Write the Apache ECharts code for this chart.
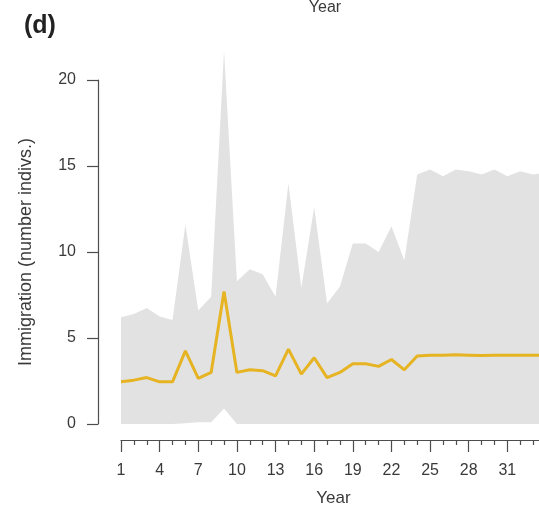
<!DOCTYPE html>
<html>
<head>
<meta charset="utf-8">
<script src="https://cdn.jsdelivr.net/npm/echarts@6/dist/echarts.min.js"></script>
<style>
  html, body { margin: 0; padding: 0; background: #ffffff; }
  #chart { width: 539px; height: 511px; }
</style>
</head>
<body>
<div id="chart"></div>
<script>
// Years of the simulation
const years = [1,2,3,4,5,6,7,8,9,10,11,12,13,14,15,16,17,18,19,20,21,22,23,24,25,26,27,28,29,30,31,32,33,34];

// Median number of immigrating individuals per year
const medianImmigration = [2.45, 2.55, 2.7, 2.45, 2.45, 4.25, 2.65, 3.0, 7.7, 3.0, 3.15, 3.1, 2.8, 4.35, 2.9, 3.85, 2.7, 3.0, 3.5, 3.5, 3.35, 3.75, 3.15, 3.95, 4.0, 4.0, 4.02, 4.0, 3.98, 4.0, 4.0, 4.0, 4.0, 4.0];

// Upper and lower limits of the uncertainty band
const upperLimit = [6.2, 6.4, 6.75, 6.25, 6.05, 11.6, 6.6, 7.4, 21.7, 8.3, 9.0, 8.7, 7.4, 14.0, 7.9, 12.6, 7.0, 8.0, 10.5, 10.5, 10.0, 11.5, 9.5, 14.5, 14.8, 14.4, 14.8, 14.7, 14.5, 14.8, 14.4, 14.7, 14.5, 14.6];
const lowerLimit = [0, 0, 0, 0, 0, 0.05, 0.1, 0.1, 0.9, 0, 0, 0, 0, 0, 0, 0, 0, 0, 0, 0, 0, 0, 0, 0, 0, 0, 0, 0, 0, 0, 0, 0, 0, 0];

// Y-axis tick values
const yTicks = [0, 5, 10, 15, 20];

const axisGrey = '#4d4d4d';
const textGrey = '#3a3a3a';
const fontFamily = '"Liberation Sans", Arial, Helvetica, sans-serif';

const upperData = years.map((y, i) => [y, upperLimit[i]]);
const lowerData = years.map((y, i) => [y, lowerLimit[i]]);
const medianData = years.map((y, i) => [y, medianImmigration[i]]);

const chart = echarts.init(document.getElementById('chart'), null, { renderer: 'canvas' });

chart.setOption({
  animation: false,
  backgroundColor: '#ffffff',
  grid: { left: 121, right: -7, top: 80, bottom: 87, containLabel: false, outerBoundsMode: 'none' },
  graphic: [
    {
      type: 'text', left: 24, top: 14,
      style: { text: '(d)', font: 'bold 25px ' + fontFamily, fill: '#222222' }
    },
    {
      type: 'text', x: 325, y: 8,
      style: { text: 'Year', font: '16px ' + fontFamily, fill: textGrey, align: 'center', verticalAlign: 'middle' }
    }
  ],
  xAxis: {
    type: 'value',
    min: 1,
    max: 34,
    interval: 3,
    offset: 16,
    name: 'Year',
    nameLocation: 'middle',
    nameGap: 50,
    nameTextStyle: { fontSize: 17, color: textGrey, fontFamily: fontFamily },
    axisLine: { show: true, onZero: false, lineStyle: { color: axisGrey, width: 1.2 } },
    axisTick: { show: true, length: 12, lineStyle: { color: axisGrey, width: 1.2 } },
    minorTick: { show: true, splitNumber: 3, length: 5, lineStyle: { color: axisGrey, width: 1.2 } },
    axisLabel: { show: true, margin: 23, fontSize: 16, color: textGrey, fontFamily: fontFamily, showMaxLabel: false },
    splitLine: { show: false },
    minorSplitLine: { show: false }
  },
  yAxis: {
    type: 'value',
    min: yTicks[0],
    max: yTicks[yTicks.length - 1],
    interval: 5,
    offset: 23,
    name: 'Immigration (number indivs.)',
    nameLocation: 'middle',
    nameGap: 63,
    nameTextStyle: { fontSize: 18, color: textGrey, fontFamily: fontFamily },
    axisLine: { show: true, onZero: false, lineStyle: { color: axisGrey, width: 1.2 } },
    axisTick: { show: true, length: 11, lineStyle: { color: axisGrey, width: 1.2 } },
    axisLabel: { show: true, margin: 22, fontSize: 16, color: textGrey, fontFamily: fontFamily },
    splitLine: { show: false }
  },
  series: [
    {
      // grey band: filled from zero up to the upper limit
      name: 'upper',
      type: 'line',
      data: upperData,
      symbol: 'none',
      clip: false,
      lineStyle: { opacity: 0 },
      areaStyle: { color: '#e2e2e2', opacity: 1, origin: 'start' },
      silent: true,
      z: 1
    },
    {
      // white fill below the lower limit carves out the band's bottom edge
      name: 'lower',
      type: 'line',
      data: lowerData,
      symbol: 'none',
      clip: false,
      lineStyle: { opacity: 0 },
      areaStyle: { color: '#ffffff', opacity: 1, origin: 'start' },
      silent: true,
      z: 2
    },
    {
      name: 'median',
      type: 'line',
      data: medianData,
      symbol: 'none',
      clip: false,
      lineStyle: { color: '#e6b422', width: 3 },
      z: 5
    }
  ]
});
</script>
</body>
</html>
